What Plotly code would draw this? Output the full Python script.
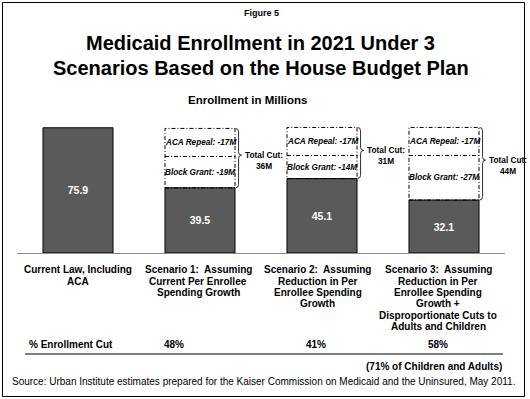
import plotly.graph_objects as go

# ---------------- data ----------------
categories = [
    "Current Law, Including<br>ACA",
    "Scenario 1:\u00a0 Assuming<br>Current Per Enrollee<br>Spending Growth",
    "Scenario 2:\u00a0 Assuming<br>Reduction in Per<br>Enrollee Spending<br>Growth",
    "Scenario 3:\u00a0 Assuming<br>Reduction in Per<br>Enrollee Spending<br>Growth +<br>Disproportionate Cuts to<br>Adults and Children",
]
enrollment = [75.9, 39.5, 45.1, 32.1]
block_grant_cut = [None, 19, 14, 27]
aca_repeal_cut = [None, 17, 17, 17]
total_cut = [None, 36, 31, 44]
pct_enrollment_cut = [None, 48, 41, 58]

title_lines = ["Medicaid Enrollment in 2021 Under 3", "Scenarios Based on the House Budget Plan"]
figure_label = "Figure 5"
subtitle = "Enrollment in Millions"
row_label = "% Enrollment Cut"
footnote = "(71% of Children and Adults)"
source = "Source: Urban Institute estimates prepared for the Kaiser Commission on Medicaid and the Uninsured, May 2011."

# ---------------- layout constants ----------------
W, H = 530, 399
L, R, T, B = 17, 25, 121, 146
PW, PH = W - L - R, H - T - B
FONT = "Liberation Sans, Arial, Helvetica, sans-serif"
BAR_W = 0.574
BAR_COLOR = "#5a5a5a"


def pxx(px):
    return (px - L) / PW


def pxy(py):
    return (H - B - py) / PH


xs = list(range(len(categories)))

fig = go.Figure()
fig.add_trace(go.Bar(
    x=xs, y=enrollment, width=BAR_W,
    marker=dict(color=BAR_COLOR, line=dict(color="black", width=1)),
    text=[f"{v:.1f}" for v in enrollment],
    textposition="inside", insidetextanchor="middle",
    textfont=dict(family=FONT, size=10.5, color="white", weight="bold"),
    hoverinfo="skip",
))

shapes = []
annotations = []

# dashed boxes, dividers, braces, labels
for i in xs:
    if total_cut[i] is None:
        continue
    base = enrollment[i]
    mid = base + block_grant_cut[i]
    top = base + block_grant_cut[i] + aca_repeal_cut[i]
    x0, x1 = i - BAR_W / 2, i + BAR_W / 2
    dash = "4px,2px,1px,2px"
    shapes.append(dict(type="rect", xref="x", yref="y", x0=x0, x1=x1, y0=base, y1=top,
                       line=dict(color="black", width=1, dash=dash), fillcolor="rgba(0,0,0,0)"))
    shapes.append(dict(type="line", xref="x", yref="y", x0=x0, x1=x1, y0=mid, y1=mid,
                       line=dict(color="black", width=1, dash=dash)))
    annotations.append(dict(xref="x", yref="y", x=x0, y=(mid + top) / 2, xanchor="left", yanchor="middle",
                            xshift=-2, showarrow=False,
                            text=f"<b><i>ACA Repeal: -{aca_repeal_cut[i]}M</i></b>",
                            font=dict(family=FONT, size=8.2, color="black")))
    annotations.append(dict(xref="x", yref="y", x=x0, y=(base + mid) / 2, xanchor="left", yanchor="middle",
                            xshift=-2, showarrow=False,
                            text=f"<b><i>Block Grant: -{block_grant_cut[i]}M</i></b>",
                            font=dict(family=FONT, size=8.2, color="black")))
    # curly brace
    tip = top - 0.45 * (top - base)
    w, r = 0.05, 2.0
    xl = x1 + 0.004
    xm, xr = xl + w / 2, xl + w
    path = (f"M {xl},{top} Q {xm},{top} {xm},{top - r} L {xm},{tip + r} "
            f"Q {xm},{tip} {xr},{tip} Q {xm},{tip} {xm},{tip - r} "
            f"L {xm},{base + r} Q {xm},{base} {xl},{base}")
    shapes.append(dict(type="path", xref="x", yref="y", path=path,
                       line=dict(color="#333333", width=1)))
    annotations.append(dict(xref="x", yref="y", x=x1, y=tip, xanchor="center", yanchor="middle",
                            xshift=29, yshift=-5, showarrow=False,
                            text=f"<b>Total Cut:<br>{total_cut[i]}M</b>",
                            font=dict(family=FONT, size=8.3, color="black")))

# category labels (one annotation per line for tight line spacing)
label_shift = [-0.5, -2, -4.5, -6]
for i, lab in enumerate(categories):
    for j, line in enumerate(lab.split("<br>")):
        annotations.append(dict(xref="x", yref="paper", x=i, y=pxy(269.7 + j * 11.4),
                                xanchor="center", yanchor="middle", xshift=label_shift[i],
                                showarrow=False, text=f"<b>{line}</b>",
                                font=dict(family=FONT, size=10, color="black")))

# % enrollment cut row
annotations.append(dict(xref="paper", yref="paper", x=pxx(27), y=pxy(344.3), xanchor="left", yanchor="middle",
                        showarrow=False, text=f"<b>{row_label}</b>",
                        font=dict(family=FONT, size=10, color="black")))
pct_shift = [0, -26.5, -6, -6.5]
for i in xs:
    if pct_enrollment_cut[i] is None:
        continue
    annotations.append(dict(xref="x", yref="paper", x=i, y=pxy(344.3), xanchor="center", yanchor="middle",
                            xshift=pct_shift[i], showarrow=False, text=f"<b>{pct_enrollment_cut[i]}%</b>",
                            font=dict(family=FONT, size=10, color="black")))
shapes.append(dict(type="line", xref="paper", yref="paper", x0=pxx(25), x1=pxx(503), y0=pxy(354), y1=pxy(354),
                   line=dict(color="black", width=1)))
annotations.append(dict(xref="paper", yref="paper", x=pxx(503.5), y=pxy(366.7), xanchor="right", yanchor="middle",
                        showarrow=False, text=f"<b>{footnote}</b>",
                        font=dict(family=FONT, size=10, color="black")))
annotations.append(dict(xref="paper", yref="paper", x=pxx(263.7), y=pxy(381.7), xanchor="center", yanchor="middle",
                        showarrow=False, text=source,
                        font=dict(family=FONT, size=10, color="black")))

# titles
annotations.append(dict(xref="paper", yref="paper", x=pxx(261), y=pxy(13.3), xanchor="center", yanchor="middle",
                        showarrow=False, text=f"<b>{figure_label}</b>",
                        font=dict(family=FONT, size=9, color="black")))
for k, (ty, tl) in enumerate(zip([42.7, 68.3], title_lines)):
    annotations.append(dict(xref="paper", yref="paper", x=pxx(260.5), y=pxy(ty), xanchor="center", yanchor="middle",
                            showarrow=False, text=f"<b>{tl}</b>",
                            font=dict(family=FONT, size=20, color="black")))
annotations.append(dict(xref="paper", yref="paper", x=pxx(247.5), y=pxy(100), xanchor="center", yanchor="middle",
                        showarrow=False, text=f"<b>{subtitle}</b>",
                        font=dict(family=FONT, size=11.5, color="black")))

# outer frame
shapes.append(dict(type="rect", xref="paper", yref="paper", x0=pxx(2.5), x1=pxx(524.5), y0=pxy(2.5), y1=pxy(396.5),
                   line=dict(color="black", width=1), fillcolor="rgba(0,0,0,0)"))

fig.update_layout(
    width=W, height=H,
    margin=dict(l=L, r=R, t=T, b=B, pad=0),
    paper_bgcolor="white", plot_bgcolor="white",
    showlegend=False,
    xaxis=dict(range=[-0.5, 3.5], showline=True, linecolor="#8c8c8c", linewidth=1,
               showticklabels=False, ticks="", showgrid=False, zeroline=False, fixedrange=True),
    yaxis=dict(range=[0, 80], visible=False, showgrid=False, zeroline=False, fixedrange=True),
    shapes=shapes,
    annotations=annotations,
    font=dict(family=FONT),
)

fig.write_html(
    "out.html",
    config={"displayModeBar": False},
    post_script="document.body.style.margin='0';document.body.style.overflow='hidden';",
)
